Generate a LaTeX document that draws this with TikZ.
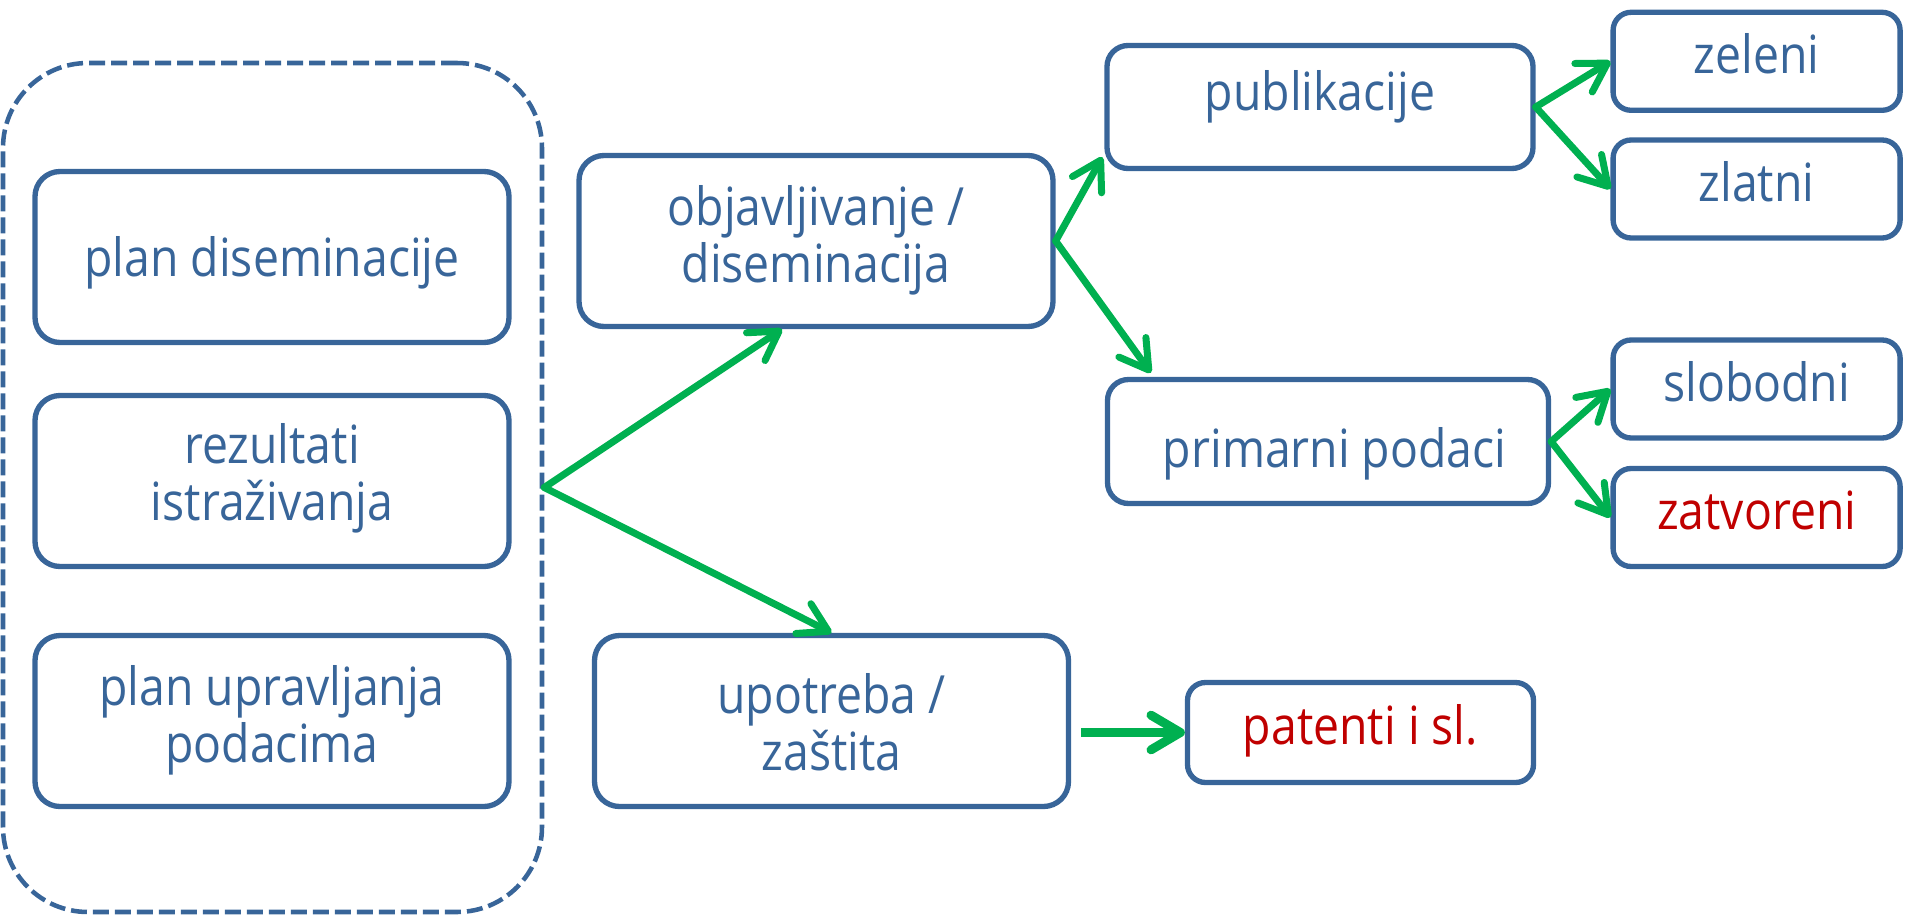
\documentclass[tikz,border=0pt]{standalone}
\usepackage{fontspec}
\setmainfont{Open Sans}[FakeStretch=0.88]
\usetikzlibrary{arrows.meta,calc}
\definecolor{bblue}{HTML}{386599}
\definecolor{tblue}{HTML}{386599}
\definecolor{agreen}{HTML}{00B050}
\definecolor{tred}{HTML}{C00000}
\newcommand\twol[2]{\vbox{\baselineskip=42.75pt\halign{\hfil##\hfil\cr #1\cr #2\cr}}}
\begin{document}
\begin{tikzpicture}[x=0.75pt,y=-0.75pt,
  box/.style={draw=bblue, line width=4pt, fill=white, text=tblue,
    font=\fontsize{39.5pt}{42.75pt}\selectfont, inner sep=0pt, text depth=0pt},
  big/.style={box, minimum width=355.5pt, minimum height=128.25pt, rounded corners=18.75pt},
  mid/.style={box, minimum height=92.25pt, rounded corners=15.75pt},
  small/.style={box, minimum width=215.25pt, minimum height=73.5pt, rounded corners=13.5pt},
  dashbox/.style={draw=bblue, line width=3.4pt, dash pattern=on 12pt off 4.5pt,
    rounded corners=63.75pt, minimum width=404.25pt, minimum height=636.75pt, inner sep=0pt},
  arr/.style={draw=agreen, line width=5.25pt, line cap=round,
    -{Straight Barb[length=21pt,width=25pt,round]}},
  arrthick/.style={draw=agreen, line width=6.75pt,
    -{Straight Barb[length=22pt,width=26pt,round]}}
]
\useasboundingbox (0,0) rectangle (1906,917);

\node[dashbox] (grp) at (272.5,487.5) {};
\node[big, text height=28.5pt] (plan) at (272,257) {plan diseminacije};
\node[big, text height=58.5pt] (rez) at (272,481) {\twol{rezultati}{istraživanja}};
\node[big, text height=61.5pt] (pup) at (272,721) {\twol{plan upravljanja}{podacima}};
\node[big, text height=61.5pt] (obj) at (816,241) {\twol{objavljivanje /}{diseminacija}};
\node[big, text height=73.5pt] (upo) at (831.5,721) {\twol{upotreba /}{zaštita}};
\node[mid, minimum width=319.5pt, text height=6pt] (pub) at (1320,107) {publikacije};
\node[mid, minimum width=330.75pt, minimum height=93pt, text height=38.25pt] (prim) at (1328,441.5) {\hspace*{10pt}primarni podaci};
\node[small, text height=18pt] (zel) at (1756.6,61.3) {zeleni};
\node[small, text height=18pt] (zla) at (1756.6,189) {zlatni};
\node[small, text height=18pt] (slo) at (1756.6,389) {slobodni};
\node[small, text height=18pt, text=tred] (zat) at (1756.6,517.5) {zatvoreni};
\node[small, minimum width=259.5pt, minimum height=75pt, text height=17.25pt, text=tred] (pat) at (1360.5,732.5) {patenti i sl.};

\draw[arr] (grp.east) -- ($(obj.south)+(-34,0)$);
\draw[arr] (grp.east) -- (upo.north);
\draw[arr] (obj.east) -- ($(pub.south west)+(-2,-14)$);
\draw[arr] (obj.east) -- ($(prim.north west)+(46,-4)$);
\draw[arr] (pub.east) -- (zel.west);
\draw[arr] (pub.east) -- (zla.west);
\draw[arr] (prim.east) -- (slo.west);
\draw[arr] (prim.east) -- (zat.west);
\draw[arrthick] ($(upo.east |- pat.west)+(10,0)$) -- (pat.west);
\end{tikzpicture}
\end{document}
